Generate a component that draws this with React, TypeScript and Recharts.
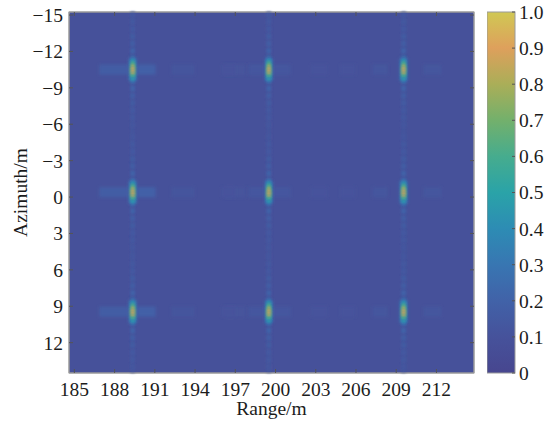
/** SAR point-target image: nine targets on a range/azimuth grid, parula-like colour scale. */

import { ComposedChart, XAxis, YAxis, ReferenceArea, Scatter } from 'recharts'

const rangeTicks = [185, 188, 191, 194, 197, 200, 203, 206, 209, 212]
const azimuthTicks = [-15, -12, -9, -6, -3, 0, 3, 6, 9, 12]
const colorTicks = [0, 0.1, 0.2, 0.3, 0.4, 0.5, 0.6, 0.7, 0.8, 0.9, 1.0]
const rangeDomain = [184.6, 214.8]
const azimuthDomain = [-15.25, 14.5]

// point targets (m)
const targetRanges = [189.35, 199.5, 209.55]
const targetAzimuths = [-10.5, -0.4, 9.45]

// main lobe: azimuth offsets from target centre and their amplitude
const lobeOffsets = [-0.77, -0.55, -0.33, -0.11, 0.11, 0.33, 0.55, 0.77]
const lobeValues = [0.44, 0.62, 0.8, 0.88, 0.9, 0.86, 0.64, 0.46]
const lobeEdgeValues = [0.3, 0.4, 0.52, 0.62, 0.64, 0.56, 0.44, 0.32]
const haloValue = 0.24

// azimuth sidelobes (vertical streak through each column)
const streakBase = 0.115
const streakOffsets = [0.95, 1.55, 2.15, 2.75, 3.35, 3.95, 4.55]
const streakValues = [0.24, 0.2, 0.17, 0.155, 0.145, 0.135, 0.13]

// range sidelobes per column: [start offset, end offset, amplitude]
const rangeLobes = [
  [[-2.5, -0.3, 0.17], [0.3, 1.7, 0.19], [2.9, 4.6, 0.115], [6.9, 8.4, 0.11]],
  [[-3.5, -2.5, 0.105], [-1.5, -0.3, 0.13], [0.3, 1.6, 0.13]],
  [[-6.9, -5.7, 0.105], [-4.7, -3.6, 0.105], [-2.3, -1.2, 0.125], [1.5, 2.8, 0.125]],
]

const backgroundValue = 0.09

const colorStops = [
  { v: 0, c: [71, 70, 143] },
  { v: 0.1, c: [70, 82, 155] },
  { v: 0.2, c: [65, 98, 168] },
  { v: 0.3, c: [56, 118, 178] },
  { v: 0.4, c: [45, 140, 180] },
  { v: 0.5, c: [42, 163, 168] },
  { v: 0.6, c: [70, 172, 142] },
  { v: 0.7, c: [115, 176, 108] },
  { v: 0.8, c: [170, 174, 88] },
  { v: 0.9, c: [222, 160, 92] },
  { v: 1.0, c: [208, 200, 84] },
]

function valueColor(v: number) {
  const t = Math.min(1, Math.max(0, v))
  for (let i = 1; i < colorStops.length; i++) {
    const a = colorStops[i - 1]
    const b = colorStops[i]
    if (t <= b.v) {
      const k = (t - a.v) / (b.v - a.v)
      const c = a.c.map((x, j) => Math.round(x + (b.c[j] - x) * k))
      return `rgb(${c[0]},${c[1]},${c[2]})`
    }
  }
  const last = colorStops[colorStops.length - 1].c
  return `rgb(${last[0]},${last[1]},${last[2]})`
}

const LOBE_HALF_W = 0.14
const LOBE_EDGE_W = 0.08
const LOBE_ROW_H = 0.22
const HALO_HALF_W = 0.3
const HALO_HALF_H = 0.95
const STREAK_HALF_W = 0.17
const STREAK_SEG_H = 0.42
const RANGE_LOBE_HALF_H = 0.42

type Cell = { x1: number; x2: number; y1: number; y2: number; v: number }

const streakCells: Cell[] = []
const sideCells: Cell[] = []
const haloCells: Cell[] = []
const lobeCells: Cell[] = []
const targetPoints: { range: number; azimuth: number }[] = []

targetRanges.forEach((r, ci) => {
  streakCells.push({ x1: r - STREAK_HALF_W, x2: r + STREAK_HALF_W, y1: azimuthDomain[0], y2: azimuthDomain[1], v: streakBase })
  targetAzimuths.forEach((a) => {
    targetPoints.push({ range: r, azimuth: a })
    streakOffsets.forEach((d, k) => {
      ;[-1, 1].forEach((s) => {
        const c = a + s * d
        streakCells.push({ x1: r - STREAK_HALF_W, x2: r + STREAK_HALF_W, y1: c - STREAK_SEG_H / 2, y2: c + STREAK_SEG_H / 2, v: streakValues[k] })
      })
    })
    rangeLobes[ci].forEach(([s, e, v]) => {
      sideCells.push({ x1: r + s, x2: r + e, y1: a - RANGE_LOBE_HALF_H, y2: a + RANGE_LOBE_HALF_H, v })
    })
    haloCells.push({ x1: r - HALO_HALF_W, x2: r + HALO_HALF_W, y1: a - HALO_HALF_H, y2: a + HALO_HALF_H, v: haloValue })
    lobeOffsets.forEach((d, k) => {
      const y1 = a + d - LOBE_ROW_H / 2
      const y2 = a + d + LOBE_ROW_H / 2
      lobeCells.push({ x1: r - LOBE_HALF_W - LOBE_EDGE_W, x2: r + LOBE_HALF_W + LOBE_EDGE_W, y1, y2, v: lobeEdgeValues[k] })
      lobeCells.push({ x1: r - LOBE_HALF_W, x2: r + LOBE_HALF_W, y1, y2, v: lobeValues[k] })
    })
  })
})

const colorPoints = colorTicks.map((v) => ({ x: 0.5, v }))

const font = 'Liberation Serif, Times New Roman, serif'
const tickStyle = { fontSize: 19.5, fill: '#1c1c1c', fontFamily: font }
const axisStroke = '#9a9a9a'
const tickStroke = '#555'

const fmtAz = (v: number) => (v < 0 ? `\u2212${-v}` : String(v))
const fmtColor = (v: number) => (v === 0 ? '0' : v.toFixed(1))
const blank = () => ''
const noDot = () => <g />

const blurRect = (filterId: string) => (p: any) => {
  const x = Math.min(p.x, p.x + p.width)
  const y = Math.min(p.y, p.y + p.height)
  return <rect x={x} y={y} width={Math.abs(p.width)} height={Math.abs(p.height)} fill={p.fill} filter={`url(#${filterId})`} />
}
const wideBlur = blurRect('wide')
const softBlur = blurRect('soft')

const flatRect = (p: any) => {
  const x = Math.min(p.x, p.x + p.width)
  const y = Math.min(p.y, p.y + p.height)
  return <rect x={x} y={y} width={Math.abs(p.width)} height={Math.abs(p.height)} fill={p.fill} stroke={axisStroke} strokeWidth={1} />
}

function cellAreas(cells: Cell[], shape: (p: any) => any, prefix: string) {
  return cells.map((c, i) => (
    <ReferenceArea
      key={`${prefix}${i}`}
      x1={c.x1}
      x2={c.x2}
      y1={c.y1}
      y2={c.y2}
      fill={valueColor(c.v)}
      shape={shape}
      ifOverflow="hidden"
    />
  ))
}

function ImageChart() {
  return (
    <ComposedChart width={550} height={427} data={targetPoints} margin={{ top: 12, right: 76, bottom: 0, left: 0 }}>
      <defs>
        <filter id="soft" filterUnits="userSpaceOnUse" x="0" y="0" width="550" height="427">
          <feGaussianBlur stdDeviation="0.8" />
        </filter>
        <filter id="wide" filterUnits="userSpaceOnUse" x="0" y="0" width="550" height="427">
          <feGaussianBlur stdDeviation="1.7" />
        </filter>
      </defs>
      <XAxis
        type="number"
        dataKey="range"
        domain={rangeDomain}
        ticks={rangeTicks}
        allowDataOverflow
        height={54}
        tickSize={0}
        tickMargin={9}
        tick={tickStyle}
        axisLine={{ stroke: axisStroke }}
        label={{ value: 'Range/m', position: 'insideBottom', offset: 12, style: { fontSize: 19.5, fill: '#1c1c1c', fontFamily: font } }}
      />
      <YAxis
        type="number"
        dataKey="azimuth"
        domain={azimuthDomain}
        ticks={azimuthTicks}
        reversed
        allowDataOverflow
        width={69}
        tickSize={0}
        tickMargin={6}
        tick={tickStyle}
        tickFormatter={fmtAz}
        axisLine={{ stroke: axisStroke }}
        label={{ value: 'Azimuth/m', angle: -90, position: 'insideLeft', offset: 20, style: { fontSize: 19.5, fill: '#1c1c1c', fontFamily: font, textAnchor: 'middle' } }}
      />
      <XAxis xAxisId="top" orientation="top" mirror type="number" dataKey="range" domain={rangeDomain} ticks={rangeTicks} allowDataOverflow tickSize={4} tickFormatter={blank} axisLine={{ stroke: axisStroke }} tickLine={{ stroke: tickStroke }} />
      <XAxis xAxisId="bin" orientation="bottom" mirror type="number" dataKey="range" domain={rangeDomain} ticks={rangeTicks} allowDataOverflow tickSize={4} tickFormatter={blank} axisLine={false} tickLine={{ stroke: tickStroke }} />
      <YAxis yAxisId="lin" orientation="left" mirror type="number" dataKey="azimuth" domain={azimuthDomain} reversed ticks={azimuthTicks} allowDataOverflow tickSize={4} tickFormatter={blank} axisLine={false} tickLine={{ stroke: tickStroke }} />
      <YAxis yAxisId="rin" orientation="right" mirror type="number" dataKey="azimuth" domain={azimuthDomain} reversed ticks={azimuthTicks} allowDataOverflow tickSize={4} tickFormatter={blank} axisLine={{ stroke: axisStroke }} tickLine={{ stroke: tickStroke }} />
      <ReferenceArea
        x1={rangeDomain[0]}
        x2={rangeDomain[1]}
        y1={azimuthDomain[0]}
        y2={azimuthDomain[1]}
        fill={valueColor(backgroundValue)}
        shape={flatRect}
        ifOverflow="hidden"
      />
      {cellAreas(streakCells, softBlur, 's')}
      {cellAreas(sideCells, wideBlur, 'r')}
      {cellAreas(haloCells, wideBlur, 'h')}
      {cellAreas(lobeCells, softBlur, 'm')}
      <Scatter dataKey="azimuth" shape={noDot} isAnimationActive={false} />
    </ComposedChart>
  )
}

function ColorBar() {
  return (
    <ComposedChart width={63} height={427} data={colorPoints} margin={{ top: 12, right: 0, bottom: 54, left: 0 }}>
      <defs>
        <linearGradient id="cbar" x1="0" y1="1" x2="0" y2="0">
          {colorStops.map((s) => (
            <stop key={s.v} offset={s.v} stopColor={valueColor(s.v)} />
          ))}
        </linearGradient>
      </defs>
      <XAxis type="number" dataKey="x" domain={[0, 1]} hide />
      <YAxis
        type="number"
        dataKey="v"
        orientation="right"
        domain={[0, 1]}
        ticks={colorTicks}
        width={35}
        tickSize={0}
        tickMargin={4}
        tick={tickStyle}
        tickFormatter={fmtColor}
        axisLine={false}
      />
      <YAxis yAxisId="cin" orientation="right" mirror type="number" dataKey="v" domain={[0, 1]} ticks={colorTicks} tickSize={3} tickFormatter={blank} axisLine={false} tickLine={{ stroke: tickStroke }} />
      <ReferenceArea x1={0} x2={1} y1={0} y2={1} fill="url(#cbar)" shape={flatRect} ifOverflow="visible" />
      <Scatter dataKey="v" shape={noDot} isAnimationActive={false} />
    </ComposedChart>
  )
}

export default function App() {
  return (
    <div style={{ position: 'relative', width: 550, height: 427, background: '#fff', fontFamily: font }}>
      <style>{'body{margin:0}'}</style>
      <div style={{ position: 'absolute', left: 0, top: 0 }}>
        <ImageChart />
      </div>
      <div style={{ position: 'absolute', left: 487, top: 0 }}>
        <ColorBar />
      </div>
    </div>
  )
}
